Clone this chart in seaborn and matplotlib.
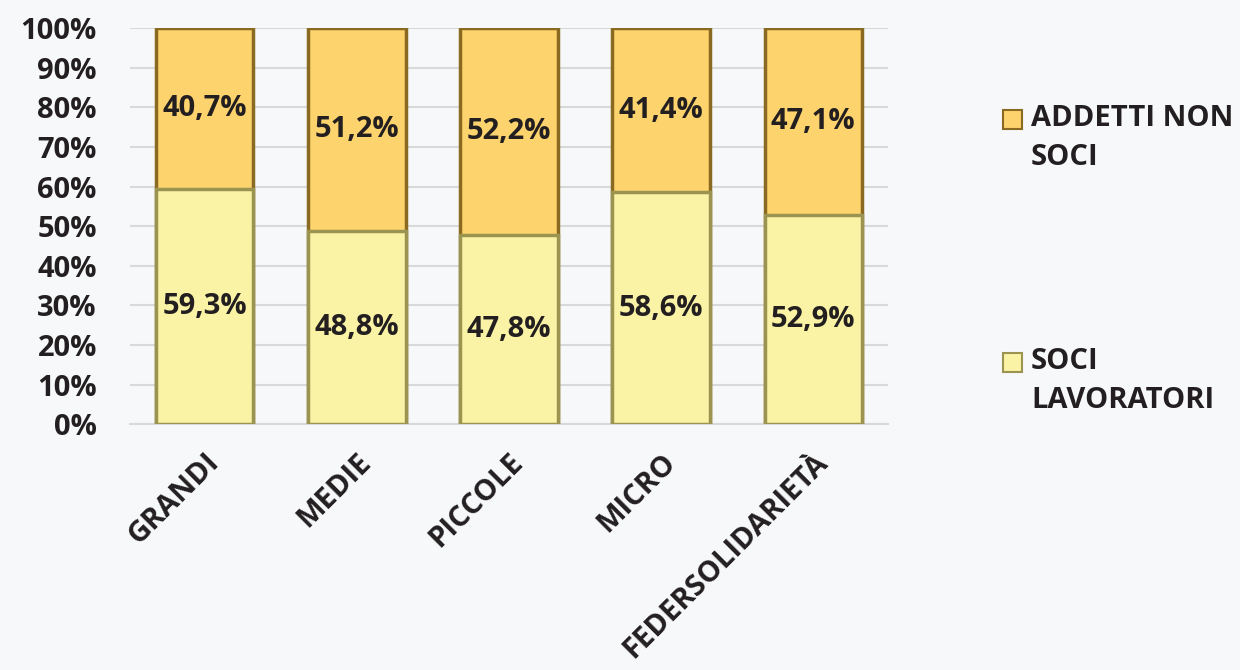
import matplotlib
matplotlib.use("Agg")
import matplotlib.pyplot as plt
import seaborn as sns
import pandas as pd
from matplotlib.patches import Rectangle

categories = ["GRANDI", "MEDIE", "PICCOLE", "MICRO", "FEDERSOLIDARIETÀ"]
soci_lavoratori = [59.3, 48.8, 47.8, 58.6, 52.9]
addetti_non_soci = [40.7, 51.2, 52.2, 41.4, 47.1]
legend_labels = ["ADDETTI NON\nSOCI", "SOCI\nLAVORATORI"]

col_soci = "#faf3a6"
col_non = "#fcd36c"
edge_soci = "#9a9450"
edge_non = "#8a6a22"
bg = "#f6f8fa"
txt = "#231f20"

df = pd.DataFrame({"cat": categories, "soci": soci_lavoratori, "non": addetti_non_soci})
df["total"] = df["soci"] + df["non"]

sns.set_style("white")
plt.rcParams["font.family"] = ["Open Sans", "DejaVu Sans"]
plt.rcParams["font.weight"] = "bold"

fig = plt.figure(figsize=(12.4, 6.7), dpi=100, facecolor=bg)
ax = fig.add_axes([0.105, 0.367, 0.611, 0.591])
ax.set_facecolor(bg)

sns.barplot(data=df, x="cat", y="total", color=col_non, width=0.64, saturation=1,
            edgecolor=edge_non, linewidth=2.5, ax=ax, zorder=3)
sns.barplot(data=df, x="cat", y="soci", color=col_soci, width=0.64, saturation=1,
            edgecolor=edge_soci, linewidth=2.5, ax=ax, zorder=4)

for i, (s, n) in enumerate(zip(soci_lavoratori, addetti_non_soci)):
    ax.text(i, s / 2, f"{s:.1f}%".replace(".", ","), ha="center", va="center",
            fontsize=21, fontweight="bold", color=txt, zorder=5)
    ax.text(i, s + n / 2, f"{n:.1f}%".replace(".", ","), ha="center", va="center",
            fontsize=21, fontweight="bold", color=txt, zorder=5)

ax.set_ylim(0, 100)
ax.set_xlim(-0.49, 4.49)
ax.set_yticks(range(0, 101, 10))
ax.set_yticklabels([f"{v}%" for v in range(0, 101, 10)], fontsize=21,
                   fontweight="bold", color=txt)
ax.set_xticks(range(len(categories)))
ax.set_xticklabels(categories, rotation=45, ha="right", rotation_mode="anchor",
                   fontsize=21, fontweight="bold", color=txt)
ax.tick_params(axis="y", length=0, pad=24)
ax.tick_params(axis="x", length=0, pad=17)
ax.yaxis.grid(True, color="#d9d9d9", linewidth=1.5, zorder=0)
ax.set_axisbelow(True)
for sp in ["top", "right", "left"]:
    ax.spines[sp].set_visible(False)
ax.spines["bottom"].set_color("#d9d9d9")
ax.spines["bottom"].set_linewidth(1.5)
ax.set_xlabel("")
ax.set_ylabel("")

# legend drawn by hand: marker sits next to the first line of each label
W, H = 1240.0, 670.0
for (y_top, face, edge, label) in [(110, col_non, edge_non, legend_labels[0]),
                                   (353, col_soci, edge_soci, legend_labels[1])]:
    fig.add_artist(Rectangle((1003 / W, 1 - (y_top + 19) / H), 19 / W, 19 / H,
                             transform=fig.transFigure, facecolor=face,
                             edgecolor=edge, linewidth=1.5))
    fig.text(1031 / W, 1 - (y_top - 6) / H, label, ha="left", va="top",
             fontsize=21, fontweight="bold", color=txt, linespacing=1.45)

fig.savefig("out.png", dpi=100, facecolor=bg)
